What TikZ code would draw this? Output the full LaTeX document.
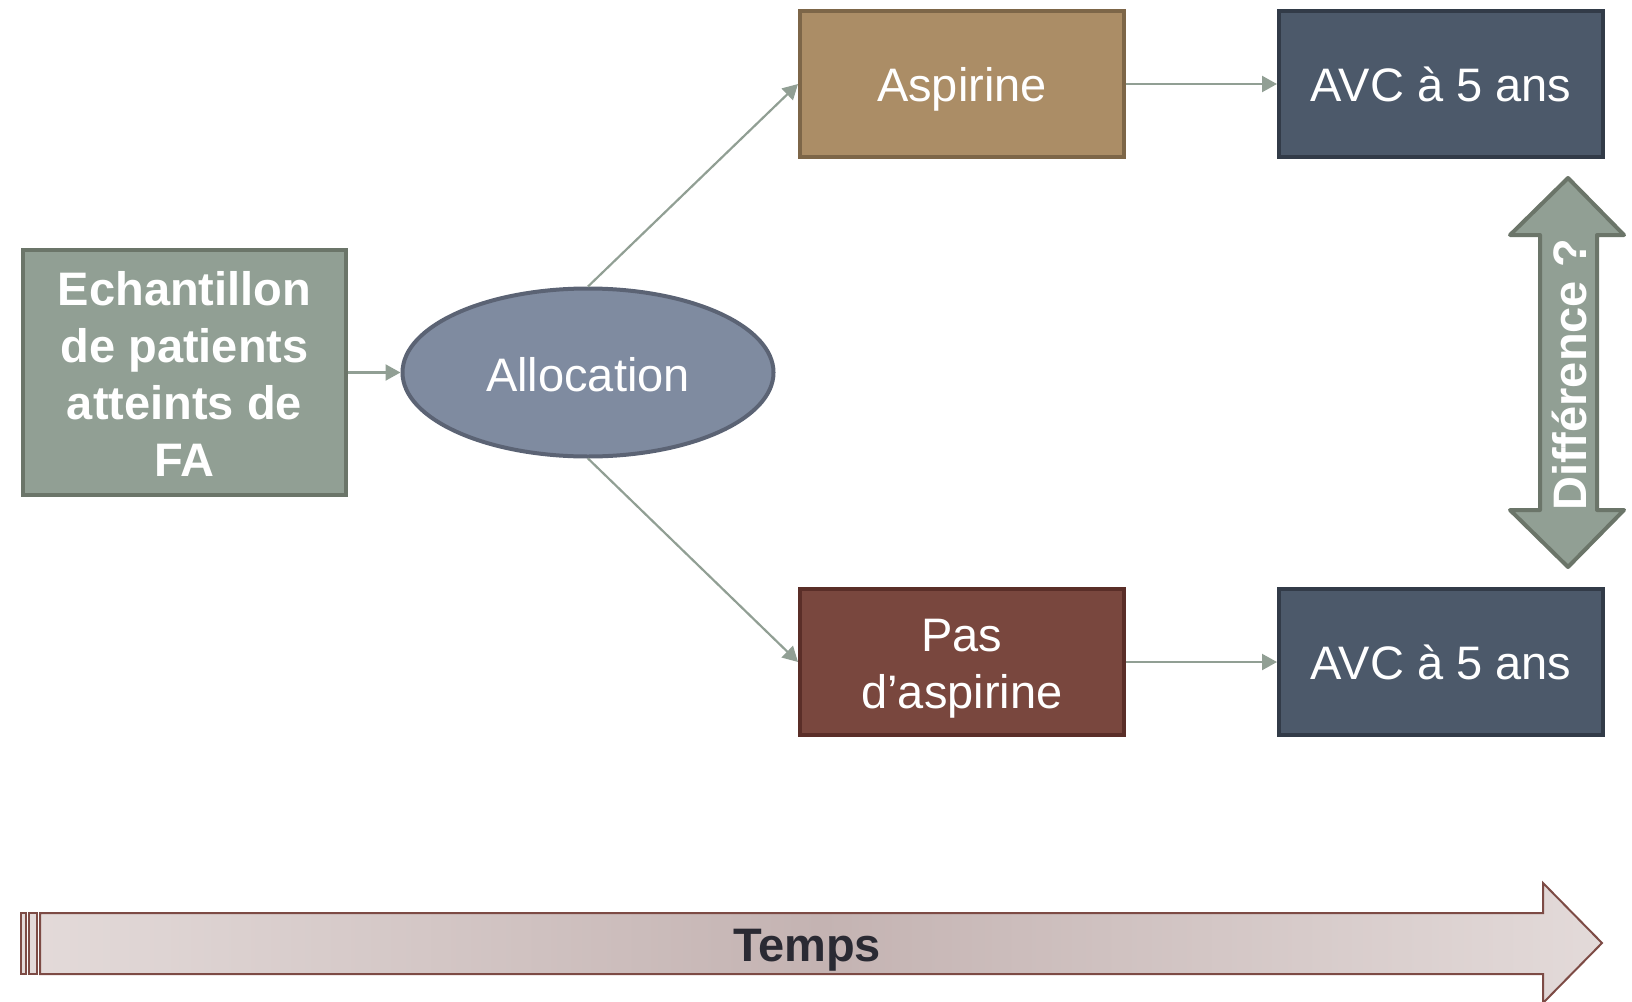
\documentclass[tikz,border=0pt]{standalone}
\usepackage{fontspec}
\setmainfont{Liberation Sans}
\usetikzlibrary{arrows.meta,shapes.geometric}
\definecolor{sage}{HTML}{919F94}
\definecolor{sagedark}{HTML}{6B7569}
\definecolor{allocfill}{HTML}{7F8BA0}
\definecolor{allocdraw}{HTML}{5B6374}
\definecolor{aspfill}{HTML}{AB8D66}
\definecolor{aspdraw}{HTML}{7D6648}
\definecolor{pasfill}{HTML}{79473E}
\definecolor{pasdraw}{HTML}{5A2E28}
\definecolor{avcfill}{HTML}{4C596A}
\definecolor{avcdraw}{HTML}{323B48}
\definecolor{tempsdraw}{HTML}{7D4B45}
\definecolor{tempslight}{HTML}{E3DAD9}
\definecolor{tempsdark}{HTML}{C4B3B2}
\definecolor{tempstext}{HTML}{2A2A33}
\tikzset{
  box/.style={rectangle, draw, line width=4pt, text=white, inner sep=0pt,
    minimum width=324pt, minimum height=146pt, align=center,
    font=\fontsize{47pt}{57pt}\selectfont},
  boxtext/.style={text=white, inner sep=0pt, align=center,
    font=\fontsize{47pt}{57pt}\selectfont},
  conn/.style={draw=sage, line width=2.2pt, -{Triangle[length=15pt,width=16pt]}},
}
\begin{document}
\begin{tikzpicture}[x=1pt,y=-1pt]
\useasboundingbox (0,0) rectangle (1632,1001);
% nodes
\node[box, fill=sage, draw=sagedark, minimum width=323pt, minimum height=245pt] (sample) at (184.5,372.5) {};
\node[boxtext, font=\bfseries\fontsize{47pt}{57pt}\selectfont] (sampletext) at (184.5,374)
  {Echantillon\\de patients\\atteints de\\FA};
\node[ellipse, draw=allocdraw, fill=allocfill, line width=4pt, inner sep=0pt,
  minimum width=371pt, minimum height=168pt] (alloc) at (588,372.5) {};
\node[boxtext, text depth=0pt] (alloctext) at (588,374.5) {Allocation};
\node[box, fill=aspfill, draw=aspdraw, text depth=0pt] (asp) at (962,84) {Aspirine};
\node[box, fill=pasfill, draw=pasdraw] (pas) at (962,662) {};
\node[boxtext] (pastext) at (962,669) {Pas\\d’aspirine};
\node[box, fill=avcfill, draw=avcdraw] (avc1) at (1441,84) {AVC à 5 ans};
\node[box, fill=avcfill, draw=avcdraw] (avc2) at (1441,662) {AVC à 5 ans};
% connectors
\draw[conn] (sample.east) -- (alloc.west);
\draw[conn] (alloc.north) -- (asp.west);
\draw[conn] (alloc.south) -- (pas.west);
\draw[conn] (asp.east) -- (avc1.west);
\draw[conn] (pas.east) -- (avc2.west);
% double arrow
\draw[draw=sagedark, fill=sage, line width=4pt, line join=round]
  (1568,178) -- (1624,235) -- (1597,235) -- (1597,510) -- (1624,510)
  -- (1568,567) -- (1510,510) -- (1540,510) -- (1540,235) -- (1510,235) -- cycle;
\node[rotate=90, text=white, font=\bfseries\fontsize{47pt}{57pt}\selectfont]
  (diff) at (1569,375) {Différence ?};
% time arrow
\draw[draw=tempsdraw, line width=2pt, fill=tempslight] (21,913) rectangle (26,974);
\draw[draw=tempsdraw, line width=2pt, fill=tempslight] (29,913) rectangle (37,974);
\draw[draw=tempsdraw, line width=2pt, left color=tempslight, right color=tempslight, middle color=tempsdark]
  (40,913) -- (1543,913) -- (1543,883) -- (1602,943) -- (1543,1003) -- (1543,974) -- (40,974) -- cycle;
\node[text=tempstext, text depth=0pt, font=\bfseries\fontsize{47pt}{57pt}\selectfont] (temps) at (807,945) {Temps};
\end{tikzpicture}
\end{document}
